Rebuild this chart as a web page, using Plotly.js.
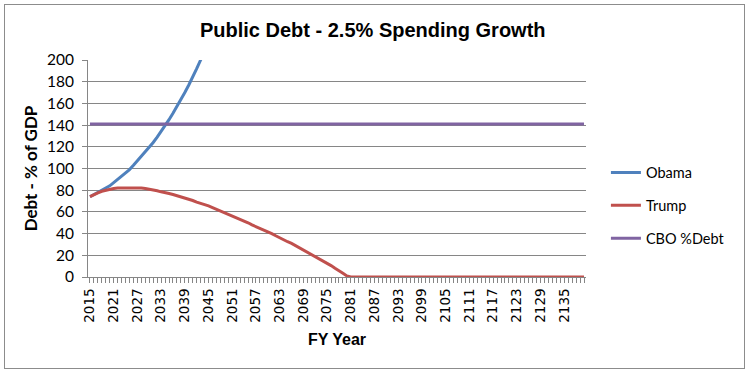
<!DOCTYPE html>
<html>
<head>
<meta charset="utf-8">
<script src="https://cdn.plot.ly/plotly-3.0.1.min.js"></script>
<style>
html,body{margin:0;padding:0;background:#fff;}
#wrap{position:relative;width:750px;height:373px;}
#chart{position:absolute;left:0;top:0;width:750px;height:373px;}
#frame{position:absolute;left:4px;top:4px;width:739px;height:363px;border:1px solid #8c8c8c;pointer-events:none;}
</style>
</head>
<body>
<div id="wrap"><div id="chart"></div><div id="frame"></div></div>
<script>
// Fiscal years 2015..2140 (category axis)
var firstYear = 2015, lastYear = 2140;
var years = [];
for (var y = firstYear; y <= lastYear; y++) years.push(y);

// Tick labels shown every 6th year
var tickYears = [2015,2021,2027,2033,2039,2045,2051,2057,2063,2069,2075,2081,2087,2093,2099,2105,2111,2117,2123,2129,2135];

// Obama: debt % of GDP (runs off the top of the chart after ~2043)
var obamaYears = [2015,2016,2017,2018,2019,2020,2021,2022,2023,2024,2025,2026,2027,2028,2029,2030,2031,2032,2033,2034,2035,2036,2037,2038,2039,2040,2041,2042,2043,2044,2045];
var obama = [74,76,78,80,82,84,87,90,93,96,99,103,107,111,115,120,124,129,134,140,145,151,157,163,170,177,184,192,200,208,216];

// Trump: debt % of GDP, 2015..2140
var trump = [
74,76,77.5,79,80,81,81.5,82,82,82.5,82.5,82.5,82,82,81.5,81,80,79.5,78.5,78,
77,76,75,74,73,72,70.5,69,68,66.5,65.5,64,62.5,61,59.5,58,56.5,55,53,51.5,
50,48,46.5,45,43,41.5,40,38,36,34.5,32.5,31,29,27,25,23,21,19,17,15,
12.5,10.5,8,6,3.5,1,0,0,0,0,0,0,0,0,0,0,0,0,0,0,
0,0,0,0,0,0,0,0,0,0,0,0,0,0,0,0,0,0,0,0,
0,0,0,0,0,0,0,0,0,0,0,0,0,0,0,0,0,0,0,0,
0,0,0,0,0,0];

// CBO %Debt benchmark
var cbo = [
141,141,141,141,141,141,141,141,141,141,141,141,141,141,141,141,141,141,141,141,
141,141,141,141,141,141,141,141,141,141,141,141,141,141,141,141,141,141,141,141,
141,141,141,141,141,141,141,141,141,141,141,141,141,141,141,141,141,141,141,141,
141,141,141,141,141,141,141,141,141,141,141,141,141,141,141,141,141,141,141,141,
141,141,141,141,141,141,141,141,141,141,141,141,141,141,141,141,141,141,141,141,
141,141,141,141,141,141,141,141,141,141,141,141,141,141,141,141,141,141,141,141,
141,141,141,141,141,141];

var yTicks = [0,20,40,60,80,100,120,140,160,180,200];

var traces = [
  {x: obamaYears, y: obama, name: 'Obama', type: 'scatter', mode: 'lines',
   line: {color: '#4F81BD', width: 3}, legendgroup: 'a', cliponaxis: true},
  {x: years, y: trump, name: 'Trump', type: 'scatter', mode: 'lines',
   line: {color: '#C0504D', width: 3}, legendgroup: 'b'},
  {x: years, y: cbo, name: 'CBO %Debt', type: 'scatter', mode: 'lines',
   line: {color: '#8064A2', width: 3}, legendgroup: 'c'}
];

var layout = {
  width: 750, height: 373,
  paper_bgcolor: '#ffffff', plot_bgcolor: '#ffffff',
  margin: {l: 88, r: 164, t: 60, b: 96},
  title: {text: 'Public Debt - 2.5% Spending Growth',
          font: {family: 'Liberation Sans, Arial, sans-serif', size: 20, color: '#000', weight: 'bold'},
          x: 0.497, xanchor: 'center', y: 0.92, yanchor: 'middle'},
  xaxis: {
    range: [firstYear - 0.5, lastYear + 0.5],
    tickmode: 'array', tickvals: tickYears, ticktext: tickYears.map(String),
    tickangle: -90,
    tickfont: {family: 'DejaVu Sans, sans-serif', size: 13.5, color: '#000'},
    ticks: 'outside', ticklen: 5, tickcolor: '#868686', tickwidth: 1,
    minor: {dtick: 1, tick0: firstYear, ticks: 'outside', ticklen: 5, tickcolor: '#868686', tickwidth: 1, showgrid: false},
    showline: true, linecolor: '#868686', linewidth: 1,
    showgrid: false, zeroline: false,
    title: {text: 'FY Year', font: {family: 'Liberation Sans, Arial, sans-serif', size: 16, color: '#000', weight: 'bold'}, standoff: 12}
  },
  yaxis: {
    range: [0, 200], tickmode: 'array', tickvals: yTicks,
    tickfont: {family: 'Lato, sans-serif', size: 15.5, color: '#000'},
    ticks: 'outside', ticklen: 5, tickcolor: '#868686', tickwidth: 1,
    ticklabelstandoff: 5,
    showline: true, linecolor: '#868686', linewidth: 1,
    showgrid: true, gridcolor: '#868686', gridwidth: 1, zeroline: false,
    title: {text: 'Debt - % of GDP', font: {family: 'Lato, sans-serif', size: 17, color: '#000', weight: 'bold'}, standoff: 4}
  },
  showlegend: true,
  legend: {x: 1.04, xanchor: 'left', y: 0.555, yanchor: 'top',
           font: {family: 'Lato, sans-serif', size: 14.5, color: '#000'},
           traceorder: 'grouped', tracegroupgap: 11, bgcolor: 'rgba(0,0,0,0)'}
};

Plotly.newPlot('chart', traces, layout, {staticPlot: true, displayModeBar: false});
</script>
</body>
</html>
